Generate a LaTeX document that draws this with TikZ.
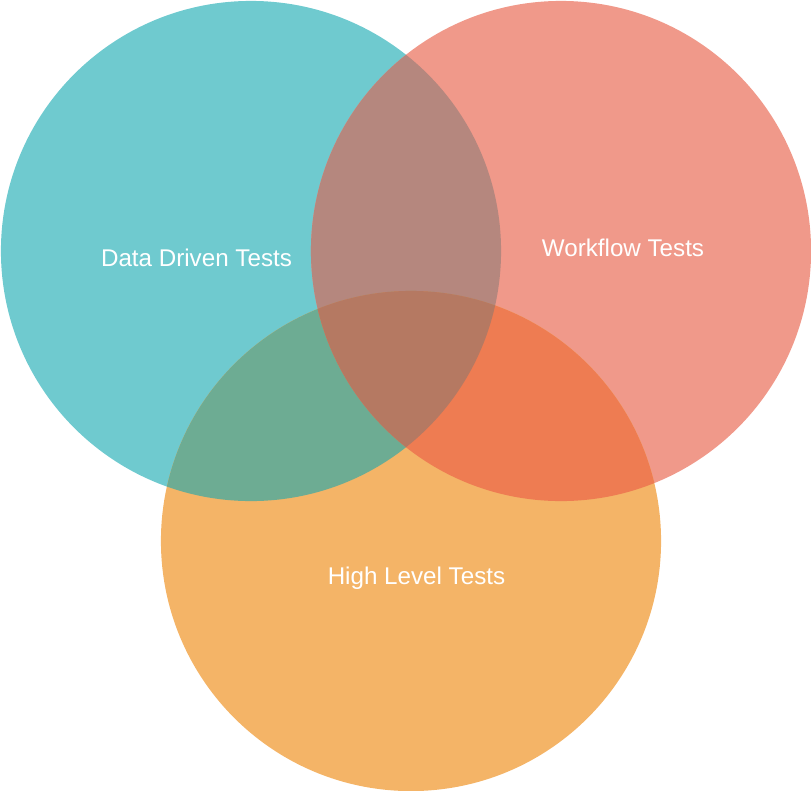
\documentclass[tikz,border=0pt]{standalone}
\usepackage{fontspec}
\setmainfont{Liberation Sans}
\usepackage{tikz}

\definecolor{dataclr}{HTML}{6FCACF}
\definecolor{flowclr}{HTML}{F0998A}
\definecolor{highclr}{HTML}{F4B467}
\definecolor{dataflowclr}{HTML}{B5877E}
\definecolor{datahighclr}{HTML}{6DAC93}
\definecolor{flowhighclr}{HTML}{EE7C52}
\definecolor{allclr}{HTML}{B57962}

\begin{document}
\begin{tikzpicture}[x=0.025cm, y=-0.025cm,
    label/.style={text=white, font=\fontsize{17.2}{20}\selectfont}]
    \useasboundingbox (0,0) rectangle (811,791);
    \coordinate (data) at (251,251);
    \coordinate (flow) at (561,251);
    \coordinate (high) at (411,541);
    \def\rad{6.25cm}

    % single sets
    \fill[dataclr] (data) circle[radius=\rad];
    \fill[flowclr] (flow) circle[radius=\rad];
    \fill[highclr] (high) circle[radius=\rad];

    % pairwise overlaps
    \begin{scope}
        \clip (data) circle[radius=\rad];
        \fill[dataflowclr] (flow) circle[radius=\rad];
        \fill[datahighclr] (high) circle[radius=\rad];
    \end{scope}
    \begin{scope}
        \clip (flow) circle[radius=\rad];
        \fill[flowhighclr] (high) circle[radius=\rad];
        \clip (data) circle[radius=\rad];
        \fill[allclr] (high) circle[radius=\rad];
    \end{scope}

    \begin{scope}[every node/.style={label}]
        \node (DDT) at (196.5,258) {Data Driven Tests};
        \node (WFT) at (623,248) {Workflow Tests};
        \node (HLT) at (416.5,578) {High Level Tests};
    \end{scope}
\end{tikzpicture}
\end{document}
